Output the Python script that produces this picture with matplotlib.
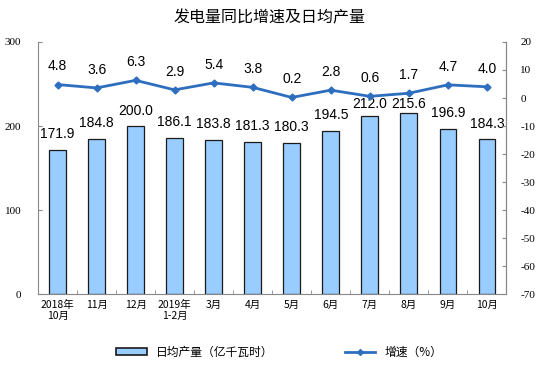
import matplotlib
matplotlib.use("Agg")
import matplotlib.pyplot as plt
from matplotlib.lines import Line2D
from matplotlib.patches import Patch
import numpy as np

plt.rcParams['font.family'] = ['Noto Sans CJK SC', 'DejaVu Sans']

months = ['2018年\n10月', '11月', '12月', '2019年\n1-2月', '3月', '4月',
          '5月', '6月', '7月', '8月', '9月', '10月']
daily_output = [171.9, 184.8, 200.0, 186.1, 183.8, 181.3, 180.3, 194.5, 212.0, 215.6, 196.9, 184.3]
growth = [4.8, 3.6, 6.3, 2.9, 5.4, 3.8, 0.2, 2.8, 0.6, 1.7, 4.7, 4.0]
left_ticks = [0, 100, 200, 300]
right_ticks = [-70, -60, -50, -40, -30, -20, -10, 0, 10, 20]

bar_color = '#99CCFF'
line_color = '#2E6EBF'
num_font = ['Liberation Sans', 'DejaVu Sans']
tick_font = ['Liberation Serif', 'DejaVu Serif']

fig = plt.figure(figsize=(5.59, 3.85), dpi=100)
ax = fig.add_axes([0.068, 0.236, 0.838, 0.655])
x = np.arange(len(months))

ax.bar(x, daily_output, width=0.43, color=bar_color, edgecolor='#1a1a1a', linewidth=0.9, zorder=2)
# labels sit above the bars but are kept below the line for the tall ones
for xi, v in zip(x, daily_output):
    ax.text(xi, min(v + 10, 217.5), f'{v:.1f}', ha='center', va='bottom', fontsize=10,
            family=num_font)

ax.set_ylim(0, 300)
ax.set_yticks(left_ticks)
ax.set_yticklabels([str(t) for t in left_ticks], family=tick_font, fontsize=8)
ax.set_xlim(-0.5, len(months) - 0.5)
ax.set_xticks(x)
ax.set_xticklabels(months, fontsize=7.5)
ax.set_xticks(np.arange(-0.5, len(months), 1), minor=True)
ax.tick_params(axis='x', which='major', length=0, pad=4)
ax.tick_params(axis='x', which='minor', length=3, color='#888888', direction='in')
ax.tick_params(axis='y', length=3, color='#888888', direction='in', pad=12)
ax.spines['top'].set_visible(False)
for s in ['left', 'bottom', 'right']:
    ax.spines[s].set_color('#888888')
    ax.spines[s].set_linewidth(0.8)

ax2 = ax.twinx()
ax2.plot(x, growth, color=line_color, linewidth=2, marker='D', markersize=3.5, zorder=3)
for xi, v in zip(x, growth):
    ax2.text(xi, v + 4.0, f'{v:.1f}', ha='center', va='bottom', fontsize=10, family=num_font)
ax2.set_ylim(-70, 20)
ax2.set_yticks(right_ticks)
ax2.set_yticklabels([str(t) for t in right_ticks], family=tick_font, fontsize=8)
ax2.tick_params(axis='y', length=3, color='#888888', direction='in', pad=10)
ax2.spines['top'].set_visible(False)
ax2.spines['right'].set_color('#888888')
ax2.spines['left'].set_visible(False)
ax2.spines['bottom'].set_visible(False)

fig.text(0.483, 0.953, '发电量同比增速及日均产量', ha='center', va='center', fontsize=11.5)

handles = [Patch(facecolor=bar_color, edgecolor='#1a1a1a', linewidth=1.2),
           Line2D([0], [0], color=line_color, linewidth=2, marker='D', markersize=3)]
fig.legend(handles, ['日均产量（亿千瓦时）', '增速（%）'], loc='center',
           bbox_to_anchor=(0.5, 0.085), ncol=2, frameon=False, fontsize=8.5,
           columnspacing=6, handlelength=2.6, handleheight=0.6)

fig.savefig('out.png', dpi=100)
